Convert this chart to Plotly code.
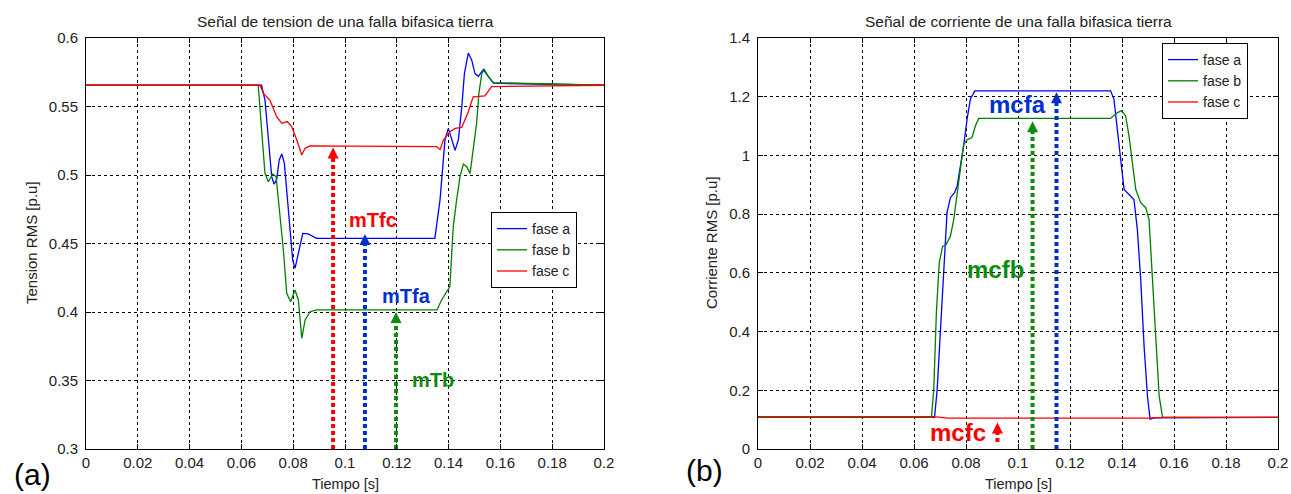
import plotly.graph_objects as go

# ---------------- data ----------------
# (a) Tension RMS [p.u]
t_ten_a = [0, 0.0664, 0.0678, 0.0691, 0.0704, 0.0717, 0.0726, 0.0736, 0.0746, 0.0756, 0.0766, 0.0777,
           0.0788, 0.0798, 0.0807, 0.0820, 0.0837, 0.0858, 0.0890, 0.1347, 0.1367, 0.1386, 0.1399, 0.1412,
           0.1425, 0.1438, 0.1451, 0.1461, 0.1476, 0.1489, 0.1502, 0.1515, 0.1534, 0.1553, 0.1573, 0.2]
v_ten_a = [0.5655, 0.5655, 0.5655, 0.5547, 0.528, 0.4988, 0.4934, 0.4964, 0.511, 0.5153, 0.5085, 0.4842,
           0.4599, 0.438, 0.4319, 0.4428, 0.4574, 0.457, 0.4538, 0.4537, 0.482, 0.5256, 0.534, 0.526,
           0.518, 0.526, 0.55, 0.574, 0.589, 0.584, 0.574, 0.572, 0.577, 0.572, 0.567, 0.5655]

t_ten_b = [0, 0.0665, 0.0678, 0.0691, 0.0704, 0.0721, 0.0734, 0.0749, 0.0762, 0.0775, 0.0790, 0.0807,
           0.0820, 0.0833, 0.0846, 0.0865, 0.0890, 0.1355, 0.1373, 0.1405, 0.1418, 0.1431, 0.1444, 0.1457,
           0.1470, 0.1483, 0.1495, 0.1508, 0.1517, 0.1528, 0.1538, 0.1553, 0.1573, 0.2]
v_ten_b = [0.5655, 0.5655, 0.5328, 0.5012, 0.4951, 0.5007, 0.4988, 0.472, 0.4453, 0.4136, 0.4075, 0.416,
           0.4088, 0.3808, 0.3942, 0.4002, 0.4015, 0.4015, 0.4088, 0.4185, 0.4623, 0.4818, 0.4988, 0.508,
           0.506, 0.5012, 0.518, 0.5377, 0.5596, 0.574, 0.577, 0.572, 0.5674, 0.5655]

t_ten_c = [0, 0.0672, 0.0685, 0.0710, 0.0736, 0.0756, 0.0777, 0.0794, 0.0814, 0.0833, 0.0846, 0.0865,
           0.1354, 0.1367, 0.1380, 0.1405, 0.1425, 0.1451, 0.1476, 0.1495, 0.1540, 0.1566, 0.2]
v_ten_c = [0.5655, 0.5655, 0.5596, 0.5547, 0.5426, 0.5377, 0.539, 0.5353, 0.5255, 0.5146, 0.5195, 0.5212,
           0.5207, 0.5187, 0.5255, 0.5316, 0.534, 0.5348, 0.5462, 0.557, 0.5577, 0.5645, 0.5655]

# (b) Corriente RMS [p.u]
t_cur_a = [0, 0.0679, 0.0689, 0.0701, 0.0714, 0.0727, 0.0740, 0.0756, 0.0766, 0.0778, 0.0791, 0.0804,
           0.0817, 0.0834, 0.1356, 0.1369, 0.1382, 0.1395, 0.1408, 0.1427, 0.1446, 0.1459, 0.1472, 0.1485,
           0.1498, 0.1508, 0.1523, 0.2]
v_cur_a = [0.108, 0.108, 0.2014, 0.395, 0.622, 0.805, 0.856, 0.873, 0.896, 0.964, 1.032, 1.123,
           1.192, 1.22, 1.22, 1.192, 1.089, 0.975, 0.884, 0.867, 0.85, 0.748, 0.577, 0.349,
           0.179, 0.102, 0.106, 0.108]

t_cur_b = [0, 0.0667, 0.0676, 0.0686, 0.0697, 0.0710, 0.0723, 0.0740, 0.0753, 0.0766, 0.0778, 0.0791,
           0.0804, 0.0823, 0.0836, 0.0849, 0.1356, 0.1382, 0.1398, 0.1414, 0.1427, 0.1440, 0.1453, 0.1472,
           0.1491, 0.1504, 0.1517, 0.1530, 0.1543, 0.1556, 0.2]
v_cur_b = [0.108, 0.108, 0.2014, 0.463, 0.634, 0.69, 0.696, 0.725, 0.782, 0.873, 0.964, 1.038,
           1.053, 1.061, 1.1, 1.126, 1.126, 1.146, 1.152, 1.135, 1.066, 0.975, 0.884, 0.839,
           0.822, 0.782, 0.577, 0.349, 0.179, 0.108, 0.108]

t_cur_c = [0, 0.0675, 0.0730, 0.1500, 0.1560, 0.2]
v_cur_c = [0.110, 0.110, 0.105, 0.105, 0.108, 0.108]

series_names = ["fase a", "fase b", "fase c"]

# marker arrows and labels
ten_arrow_x = [0.0954, 0.1077, 0.1197]
ten_arrow_base = [0.30, 0.30, 0.30]
ten_arrow_tip = [0.520, 0.457, 0.400]
ten_label_text = ["mTfc", "mTfa", "mTb"]
ten_label_x = [0.1108, 0.1236, 0.1340]
ten_label_y = [0.467, 0.4117, 0.3504]

cur_arrow_x = [0.1056, 0.1148, 0.0921]
cur_arrow_base = [0.0, 0.0, 0.024]
cur_arrow_tip = [1.116, 1.215, 0.090]
cur_label_text = ["mcfb", "mcfa", "mcfc"]
cur_label_x = [0.0913, 0.0998, 0.0769]
cur_label_y = [0.611, 1.174, 0.0546]

x_ticks = [0, 0.02, 0.04, 0.06, 0.08, 0.1, 0.12, 0.14, 0.16, 0.18, 0.2]
ten_ticks = [0.3, 0.35, 0.4, 0.45, 0.5, 0.55, 0.6]
cur_ticks = [0, 0.2, 0.4, 0.6, 0.8, 1.0, 1.2, 1.4]

# ---------------- style ----------------
W, H = 1291, 494
FONT = "Liberation Sans, Arial, Helvetica, sans-serif"
TXT = "#222222"
C_LINE = ["#0000ff", "#008000", "#ff0000"]
C_ARROW = ["#ff0000", "#0030cc", "#0c8c0c"]          # tension arrows: c, a, b
C_ARROW_CUR = ["#0c8c0c", "#0030cc", "#ff0000"]      # current arrows: b, a, c

LX = [86 / W, 604 / W]
RX = [758 / W, 1278 / W]
DY = [1 - 449 / H, 1 - 38 / H]
TEN_RANGE = [0.3, 0.6]
CUR_RANGE = [0, 1.4]
PLOT_H = (DY[1] - DY[0]) * H
HEAD_PX = 9

fig = go.Figure()

for t, v, name, col in zip([t_ten_a, t_ten_b, t_ten_c], [v_ten_a, v_ten_b, v_ten_c], series_names, C_LINE):
    fig.add_trace(go.Scatter(x=t, y=v, mode="lines", name=name, line=dict(color=col, width=1.3),
                             xaxis="x", yaxis="y", legend="legend"))
for t, v, name, col in zip([t_cur_a, t_cur_b, t_cur_c], [v_cur_a, v_cur_b, v_cur_c], series_names, C_LINE):
    fig.add_trace(go.Scatter(x=t, y=v, mode="lines", name=name, line=dict(color=col, width=1.3),
                             xaxis="x2", yaxis="y2", legend="legend2"))

annotations = []


def add_arrows(xs, bases, tips, cols, xref, yref, yrange):
    ppu = PLOT_H / (yrange[1] - yrange[0])
    for x, b, tp, c in zip(xs, bases, tips, cols):
        fig.add_trace(go.Scatter(x=[x, x], y=[b, tp - HEAD_PX / ppu], mode="lines",
                                 line=dict(color=c, width=4, dash="4px,3px"),
                                 showlegend=False, hoverinfo="skip",
                                 xaxis=xref, yaxis=yref))
        annotations.append(dict(x=x, y=tp, xref=xref, yref=yref, text="", showarrow=True,
                                ax=0, ay=11, arrowhead=2, arrowwidth=2, arrowsize=1.1,
                                arrowcolor=c, standoff=0))


add_arrows(ten_arrow_x, ten_arrow_base, ten_arrow_tip, C_ARROW, "x", "y", TEN_RANGE)
add_arrows(cur_arrow_x, cur_arrow_base, cur_arrow_tip, C_ARROW_CUR, "x2", "y2", CUR_RANGE)

for txt, x, y, c in zip(ten_label_text, ten_label_x, ten_label_y, C_ARROW):
    annotations.append(dict(x=x, y=y, xref="x", yref="y", text="<b>%s</b>" % txt, showarrow=False,
                            font=dict(family=FONT, size=20, color=c)))
for txt, x, y, c in zip(cur_label_text, cur_label_x, cur_label_y, C_ARROW_CUR):
    annotations.append(dict(x=x, y=y, xref="x2", yref="y2", text="<b>%s</b>" % txt, showarrow=False,
                            font=dict(family=FONT, size=24, color=c)))


def paper_text(txt, px, py, size, angle=0):
    annotations.append(dict(x=px / W, y=1 - py / H, xref="paper", yref="paper", text=txt,
                            showarrow=False, textangle=angle, xanchor="center", yanchor="middle",
                            font=dict(family=FONT, size=size, color=TXT)))


paper_text("Señal de tension de una falla bifasica tierra", 345, 22, 15.5)
paper_text("Señal de corriente de una falla bifasica tierra", 1018, 22, 15.5)
paper_text("Tension RMS [p.u]", 32, 243, 15, -90)
paper_text("Corriente RMS [p.u]", 712, 243, 15, -90)
paper_text("Tiempo [s]", 345, 484, 14.5)
paper_text("Tiempo [s]", 1018, 484, 14.5)
annotations.append(dict(x=32 / W, y=1 - 474 / H, xref="paper", yref="paper", text="(a)", showarrow=False,
                        font=dict(family=FONT, size=30, color="#000"), xanchor="center", yanchor="middle"))
annotations.append(dict(x=704 / W, y=1 - 470 / H, xref="paper", yref="paper", text="(b)", showarrow=False,
                        font=dict(family=FONT, size=30, color="#000"), xanchor="center", yanchor="middle"))

axis_common = dict(showline=True, linecolor="#000", linewidth=1, mirror="allticks",
                   ticks="inside", ticklen=5, tickcolor="#000", tickwidth=1,
                   showgrid=True, gridcolor="#000", gridwidth=1, griddash="3px,3px",
                   zeroline=False, automargin=False,
                   tickfont=dict(family=FONT, size=15, color=TXT))

legend_common = dict(xanchor="left", yanchor="top", bgcolor="white", bordercolor="#000", borderwidth=1,
                     font=dict(family=FONT, size=14, color=TXT), itemwidth=30, tracegroupgap=0,
                     entrywidth=62)

fig.update_layout(
    template="none",
    width=W, height=H, autosize=False,
    margin=dict(l=0, r=0, t=0, b=0, pad=0, autoexpand=False),
    paper_bgcolor="white", plot_bgcolor="white",
    xaxis=dict(domain=LX, range=[0, 0.2], tickvals=x_ticks, anchor="y", ticklabelstandoff=0, **axis_common),
    yaxis=dict(domain=DY, range=TEN_RANGE, tickvals=ten_ticks, anchor="x", ticklabelstandoff=4, **axis_common),
    xaxis2=dict(domain=RX, range=[0, 0.2], tickvals=x_ticks, anchor="y2", ticklabelstandoff=0, **axis_common),
    yaxis2=dict(domain=DY, range=CUR_RANGE, tickvals=cur_ticks, anchor="x2", ticklabelstandoff=4, **axis_common),
    legend=dict(x=491 / W, y=1 - 212 / H, **legend_common),
    legend2=dict(x=1162 / W, y=1 - 43 / H, **legend_common),
    annotations=annotations,
    showlegend=True,
)

fig.write_html("out.html")
